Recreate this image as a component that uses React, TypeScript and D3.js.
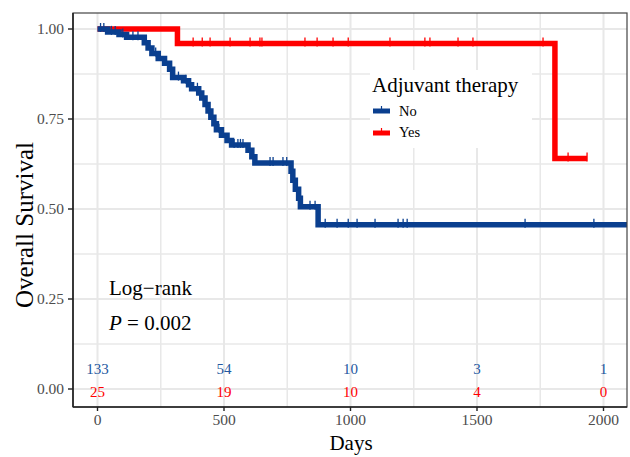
import * as d3 from 'd3';

// Kaplan-Meier steps: [day, survival after that day]
const noSteps: [number, number][] = [
  [0, 1.0], [40, 0.992], [85, 0.985], [115, 0.977], [185, 0.962], [200, 0.947],
  [215, 0.932], [240, 0.918], [265, 0.905], [285, 0.888], [297, 0.865], [340, 0.856],
  [360, 0.845], [372, 0.834], [400, 0.822], [412, 0.808], [425, 0.79], [437, 0.772],
  [448, 0.755], [460, 0.737], [470, 0.72], [490, 0.705], [512, 0.69], [530, 0.678],
  [595, 0.663], [610, 0.645], [622, 0.628], [765, 0.605], [772, 0.58], [782, 0.555],
  [795, 0.53], [802, 0.506], [872, 0.456],
];
const noEnd = 2150;
const noCensor = [
  12, 25, 55, 70, 100, 140, 160, 230, 320, 350, 395, 430, 480, 540, 555, 565, 575,
  682, 694, 733, 748, 840, 860, 900, 947, 991, 1026, 1097, 1188, 1208, 1224, 1690, 1962,
];

const yesSteps: [number, number][] = [[0, 1.0], [316, 0.96], [1808, 0.64]];
const yesEnd = 1935;
const yesCensor = [
  378, 414, 445, 524, 603, 642, 650, 820, 868, 931, 991, 1156, 1294, 1314, 1425,
  1484, 1761, 1860, 1935,
];

const riskTimes = [0, 500, 1000, 1500, 2000];
const riskNo = [133, 54, 10, 3, 1];
const riskYes = [25, 19, 10, 4, 0];

const xTicks = [0, 500, 1000, 1500, 2000];
const yTicks = [0, 0.25, 0.5, 0.75, 1];

const BLUE = '#0a3f8f';
const BLUE_TXT = '#2357a0';
const RED = '#ff0000';
const FONT = '"Liberation Serif", "Times New Roman", serif';

const W = 630;
const H = 457;
const panel = { left: 73, right: 627, top: 13, bottom: 407 };

function survAt(steps: [number, number][], t: number) {
  let s = steps[0][1];
  for (const [time, v] of steps) if (time <= t) s = v;
  return s;
}

export default function App() {
  const x = d3.scaleLinear().domain([0, 2000]).range([97.5, 603.5]);
  const y = d3.scaleLinear().domain([0, 1]).range([389, 29]);

  const stepLine = d3
    .line<[number, number]>()
    .x((d) => x(d[0]))
    .y((d) => y(d[1]))
    .curve(d3.curveStepAfter);

  const noPath = stepLine([...noSteps, [noEnd, noSteps[noSteps.length - 1][1]]]) ?? '';
  const yesPath = stepLine([...yesSteps, [yesEnd, yesSteps[yesSteps.length - 1][1]]]) ?? '';

  const minorX = [250, 750, 1250, 1750];
  const minorY = [0.125, 0.375, 0.625, 0.875];

  return (
    <svg
      width={W}
      height={H}
      style={{ position: 'absolute', left: 0, top: 0, background: '#fff' }}
      fontFamily={FONT}
    >
      <defs>
        <clipPath id="panel-clip">
          <rect x={panel.left} y={panel.top} width={panel.right - panel.left} height={panel.bottom - panel.top} />
        </clipPath>
      </defs>

      {/* grid */}
      <g stroke="#e8e8e8">
        {minorX.map((t) => (
          <line key={`mx${t}`} x1={x(t)} x2={x(t)} y1={panel.top} y2={panel.bottom} strokeWidth={1.5} />
        ))}
        {minorY.map((t) => (
          <line key={`my${t}`} y1={y(t)} y2={y(t)} x1={panel.left} x2={panel.right} strokeWidth={1.5} />
        ))}
        {xTicks.map((t) => (
          <line key={`gx${t}`} x1={x(t)} x2={x(t)} y1={panel.top} y2={panel.bottom} strokeWidth={2} />
        ))}
        {yTicks.map((t) => (
          <line key={`gy${t}`} y1={y(t)} y2={y(t)} x1={panel.left} x2={panel.right} strokeWidth={2} />
        ))}
      </g>

      {/* legend background */}
      <rect x={370} y={70} width={162} height={78} fill="#fff" />

      {/* curves */}
      <g clipPath="url(#panel-clip)" fill="none">
        <path d={yesPath} stroke={RED} strokeWidth={5.5} strokeLinejoin="miter" />
        {yesCensor.map((t, i) => (
          <line key={`yc${i}`} x1={x(t)} x2={x(t)} y1={y(survAt(yesSteps, t)) - 6} y2={y(survAt(yesSteps, t)) + 3} stroke={RED} strokeWidth={1.3} />
        ))}
        <path d={noPath} stroke={BLUE} strokeWidth={5.5} strokeLinejoin="miter" />
        {noCensor.map((t, i) => (
          <line key={`nc${i}`} x1={x(t)} x2={x(t)} y1={y(survAt(noSteps, t)) - 6} y2={y(survAt(noSteps, t)) + 3} stroke={BLUE} strokeWidth={1.3} />
        ))}
      </g>

      {/* panel border */}
      <rect
        x={panel.left}
        y={panel.top}
        width={panel.right - panel.left}
        height={panel.bottom - panel.top}
        fill="none"
        stroke="#444"
        strokeWidth={1.2}
      />
      <line x1={panel.left} x2={panel.right} y1={panel.bottom} y2={panel.bottom} stroke="#222" strokeWidth={1.6} />
      <line x1={panel.left} x2={panel.left} y1={panel.top} y2={panel.bottom} stroke="#222" strokeWidth={1.6} />

      {/* axes ticks & labels */}
      {xTicks.map((t) => (
        <g key={`xt${t}`}>
          <line x1={x(t)} x2={x(t)} y1={panel.bottom} y2={panel.bottom + 4} stroke="#222" strokeWidth={1.4} />
          <text x={x(t)} y={425} textAnchor="middle" fontSize={15.5} fill="#4d4d4d">
            {t}
          </text>
        </g>
      ))}
      {yTicks.map((t) => (
        <g key={`yt${t}`}>
          <line x1={panel.left - 5} x2={panel.left} y1={y(t)} y2={y(t)} stroke="#222" strokeWidth={1.4} />
          <text x={64} y={y(t) + 5} textAnchor="end" fontSize={15.5} fill="#4d4d4d">
            {t.toFixed(2)}
          </text>
        </g>
      ))}

      <text x={351} y={450} textAnchor="middle" fontSize={21} fill="#000">
        Days
      </text>
      <text transform="translate(33,225) rotate(-90)" textAnchor="middle" fontSize={25} fill="#000">
        Overall Survival
      </text>

      {/* legend */}
      <text x={372} y={92} fontSize={21} fill="#000">
        Adjuvant therapy
      </text>
      {[
        { label: 'No', color: BLUE, cy: 111, base: 116 },
        { label: 'Yes', color: RED, cy: 133, base: 137 },
      ].map((d) => (
        <g key={d.label}>
          <line x1={373} x2={390} y1={d.cy} y2={d.cy} stroke={d.color} strokeWidth={5} />
          <line x1={381.5} x2={381.5} y1={d.cy - 5} y2={d.cy + 2} stroke={d.color} strokeWidth={1.2} />
          <text x={399} y={d.base} fontSize={14.5} fill="#000">
            {d.label}
          </text>
        </g>
      ))}

      {/* annotation */}
      <text x={109} y={295} fontSize={21} fill="#000">
        Log−rank
      </text>
      <text x={109} y={330} fontSize={21} fill="#000">
        <tspan fontStyle="italic">P</tspan> = 0.002
      </text>

      {/* numbers at risk */}
      {riskTimes.map((t, i) => (
        <g key={`r${t}`}>
          <text x={x(t)} y={374} textAnchor="middle" fontSize={15} fill={BLUE_TXT}>
            {riskNo[i]}
          </text>
          <text x={x(t)} y={397} textAnchor="middle" fontSize={15} fill={RED}>
            {riskYes[i]}
          </text>
        </g>
      ))}
    </svg>
  );
}
